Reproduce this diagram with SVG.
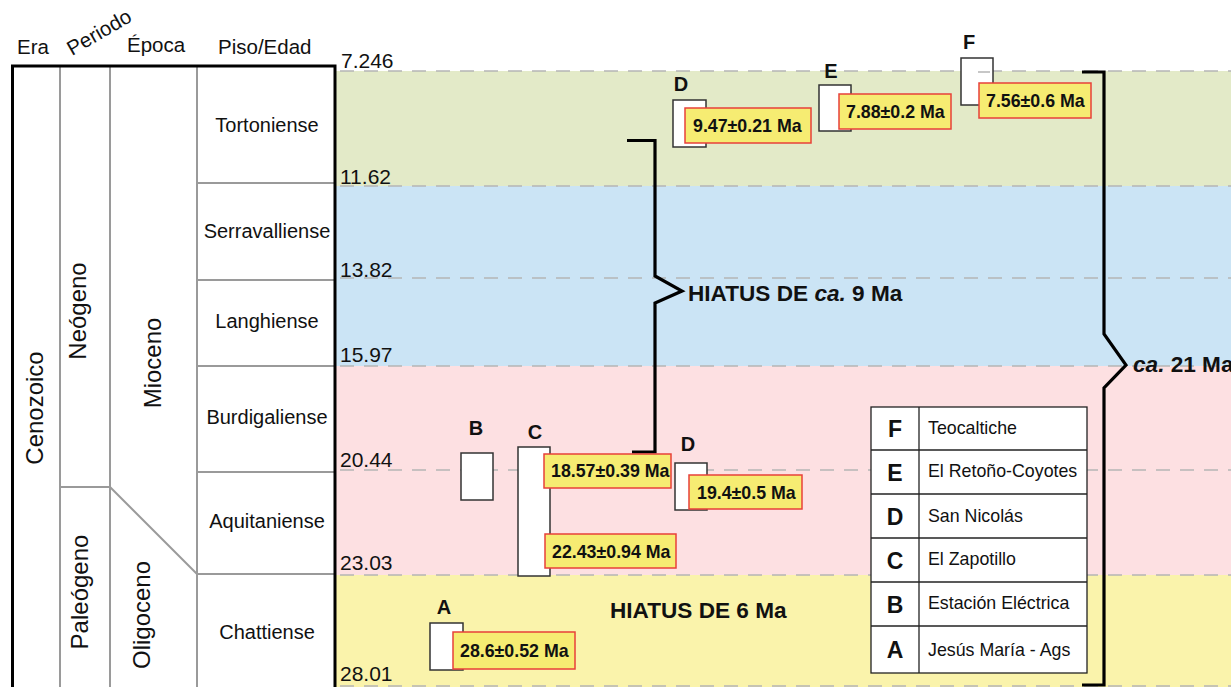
<svg xmlns="http://www.w3.org/2000/svg" width="1231" height="687" viewBox="0 0 1231 687">
<style>
text{font-family:"Liberation Sans",Arial,sans-serif;fill:#111}
.hdr{font-size:20.5px}
.piso{font-size:20px;text-anchor:middle}
.vert{font-size:24px;text-anchor:middle}
.num{font-size:21px}
.grid{stroke:#9a9a9a;stroke-width:2;fill:none}
.dash{stroke:#b5b5b5;stroke-width:1.6;stroke-dasharray:14 10;fill:none}
.samp{fill:#fff;stroke:#333;stroke-width:1.5}
.lab{fill:#f6ec72;stroke:#e8403a;stroke-width:1.5}
.labt{font-size:17.8px;font-weight:bold}
.let{font-size:20px;font-weight:bold;text-anchor:middle}
.brk{stroke:#000;stroke-width:3.2;fill:none}
.leg{fill:#fff;stroke:#222;stroke-width:1.3}
.legl{font-size:23px;font-weight:bold;text-anchor:middle}
.legt{font-size:17.8px}
.bold{font-size:22.6px;font-weight:bold}
</style>
<rect width="1231" height="687" fill="#fff"/>
<g id="bands">
<rect x="336" y="71" width="895" height="115" fill="#e3eac8"/>
<rect x="336" y="186" width="895" height="180" fill="#cbe4f5"/>
<rect x="336" y="366" width="895" height="209" fill="#fde0e2"/>
<rect x="336" y="575" width="895" height="112" fill="#faf3ab"/>
</g>
<g id="dashes">
<line class="dash" x1="340" y1="71" x2="1231" y2="71"/>
<line class="dash" x1="340" y1="186" x2="1231" y2="186"/>
<line class="dash" x1="340" y1="278" x2="1231" y2="278"/>
<line class="dash" x1="340" y1="366" x2="1231" y2="366"/>
<line class="dash" x1="340" y1="470" x2="1231" y2="470"/>
<line class="dash" x1="340" y1="575" x2="1231" y2="575"/>
<line class="dash" x1="340" y1="686" x2="1231" y2="686"/>
</g>
<g id="headers">
<text class="hdr" x="17" y="54">Era</text>
<text class="hdr" x="72" y="56" transform="rotate(-30 72 56)">Periodo</text>
<text class="hdr" x="127" y="52">Época</text>
<text class="hdr" x="218" y="54">Piso/Edad</text>
</g>
<g id="table">
<line class="grid" x1="60" y1="66" x2="60" y2="687"/>
<line class="grid" x1="110" y1="66" x2="110" y2="687"/>
<line class="grid" x1="197" y1="66" x2="197" y2="687"/>
<line class="grid" x1="60" y1="487" x2="110" y2="487"/>
<line class="grid" x1="110" y1="487" x2="197" y2="574"/>
<line class="grid" x1="197" y1="183" x2="335" y2="183"/>
<line class="grid" x1="197" y1="280" x2="335" y2="280"/>
<line class="grid" x1="197" y1="366" x2="335" y2="366"/>
<line class="grid" x1="197" y1="472" x2="335" y2="472"/>
<line class="grid" x1="197" y1="574" x2="335" y2="574"/>
<path d="M12.5 690 V66 H335 V690" stroke="#000" stroke-width="3" fill="none"/>
<text class="vert" transform="translate(43,408) rotate(-90)">Cenozoico</text>
<text class="vert" transform="translate(86,311) rotate(-90)">Neógeno</text>
<text class="vert" transform="translate(161,363) rotate(-90)">Mioceno</text>
<text class="vert" transform="translate(88,592) rotate(-90)">Paleógeno</text>
<text class="vert" transform="translate(150,615) rotate(-90)">Oligoceno</text>
<text class="piso" x="267" y="132">Tortoniense</text>
<text class="piso" x="267" y="238">Serravalliense</text>
<text class="piso" x="267" y="328">Langhiense</text>
<text class="piso" x="267" y="424">Burdigaliense</text>
<text class="piso" x="267" y="528">Aquitaniense</text>
<text class="piso" x="267" y="639">Chattiense</text>
</g>
<g id="ages">
<text class="num" x="341" y="68">7.246</text>
<text class="num" x="340" y="184">11.62</text>
<text class="num" x="340" y="277">13.82</text>
<text class="num" x="340" y="362">15.97</text>
<text class="num" x="340" y="467">20.44</text>
<text class="num" x="340" y="570">23.03</text>
<text class="num" x="340" y="681">28.01</text>
</g>
<g id="connectors">
<path class="brk" d="M627 140.5 H655 V276 L682 291 L655 303 V452 H632"/>
<path class="brk" d="M1082 72 H1104 V334 L1126 365 L1104 388 V685 H1082"/>
</g>
<g id="hiatus9"><text class="bold" x="688" y="301">HIATUS DE <tspan font-style="italic">ca.</tspan> 9 Ma</text></g>
<g id="ca21"><text class="bold" x="1133" y="372"><tspan font-style="italic">ca.</tspan> 21 Ma</text></g>
<g id="hiatus6"><text class="bold" x="610" y="618">HIATUS DE 6 Ma</text></g>
<g id="sampleD1">
<text class="let" x="681" y="91">D</text>
<rect class="samp" x="673" y="100" width="33" height="47"/>
<rect class="lab" x="685" y="108" width="126" height="35"/>
<text class="labt" x="693" y="132">9.47±0.21 Ma</text>
</g>
<g id="sampleE">
<text class="let" x="831" y="78">E</text>
<rect class="samp" x="819" y="85" width="32" height="46"/>
<rect class="lab" x="839" y="94" width="112" height="35"/>
<text class="labt" x="846" y="118">7.88±0.2 Ma</text>
</g>
<g id="sampleF">
<text class="let" x="969" y="49">F</text>
<rect class="samp" x="961" y="58" width="32" height="47"/>
<line x1="978" y1="72" x2="990" y2="72" stroke="#b5b5b5" stroke-width="1.5"/>
<rect class="lab" x="979" y="83" width="112" height="35"/>
<text class="labt" x="986" y="107">7.56±0.6 Ma</text>
</g>
<g id="sampleB">
<text class="let" x="476" y="435">B</text>
<rect class="samp" x="461" y="453" width="32" height="47"/>
</g>
<g id="sampleC">
<text class="let" x="535" y="439">C</text>
<rect class="samp" x="518" y="447" width="32" height="129"/>
<rect class="lab" x="544" y="454" width="127" height="34"/>
<text class="labt" x="551" y="477">18.57±0.39 Ma</text>
<rect class="lab" x="545" y="534" width="131" height="34"/>
<text class="labt" x="552" y="558">22.43±0.94 Ma</text>
</g>
<g id="sampleD2">
<text class="let" x="688" y="451">D</text>
<rect class="samp" x="675" y="463" width="32" height="47"/>
<rect class="lab" x="689" y="475" width="113" height="34"/>
<text class="labt" x="697" y="499">19.4±0.5 Ma</text>
</g>
<g id="sampleA">
<text class="let" x="444" y="614">A</text>
<rect class="samp" x="430" y="623" width="33" height="47"/>
<rect class="lab" x="453" y="632" width="122" height="37"/>
<text class="labt" x="460" y="657">28.6±0.52 Ma</text>
</g>
<g id="legend">
<rect class="leg" x="871" y="407" width="216" height="266"/>
<line class="leg" x1="919" y1="407" x2="919" y2="673"/>
<line class="leg" x1="871" y1="450" x2="1087" y2="450"/>
<line class="leg" x1="871" y1="494" x2="1087" y2="494"/>
<line class="leg" x1="871" y1="538" x2="1087" y2="538"/>
<line class="leg" x1="871" y1="582" x2="1087" y2="582"/>
<line class="leg" x1="871" y1="626" x2="1087" y2="626"/>
<text class="legl" x="895" y="437">F</text><text class="legt" x="928" y="434">Teocaltiche</text>
<text class="legl" x="895" y="481">E</text><text class="legt" x="928" y="477">El Retoño-Coyotes</text>
<text class="legl" x="895" y="525">D</text><text class="legt" x="928" y="522">San Nicolás</text>
<text class="legl" x="895" y="569">C</text><text class="legt" x="928" y="565">El Zapotillo</text>
<text class="legl" x="895" y="613">B</text><text class="legt" x="928" y="609">Estación Eléctrica</text>
<text class="legl" x="895" y="658">A</text><text class="legt" x="928" y="656">Jesús María - Ags</text>
</g>
</svg>
